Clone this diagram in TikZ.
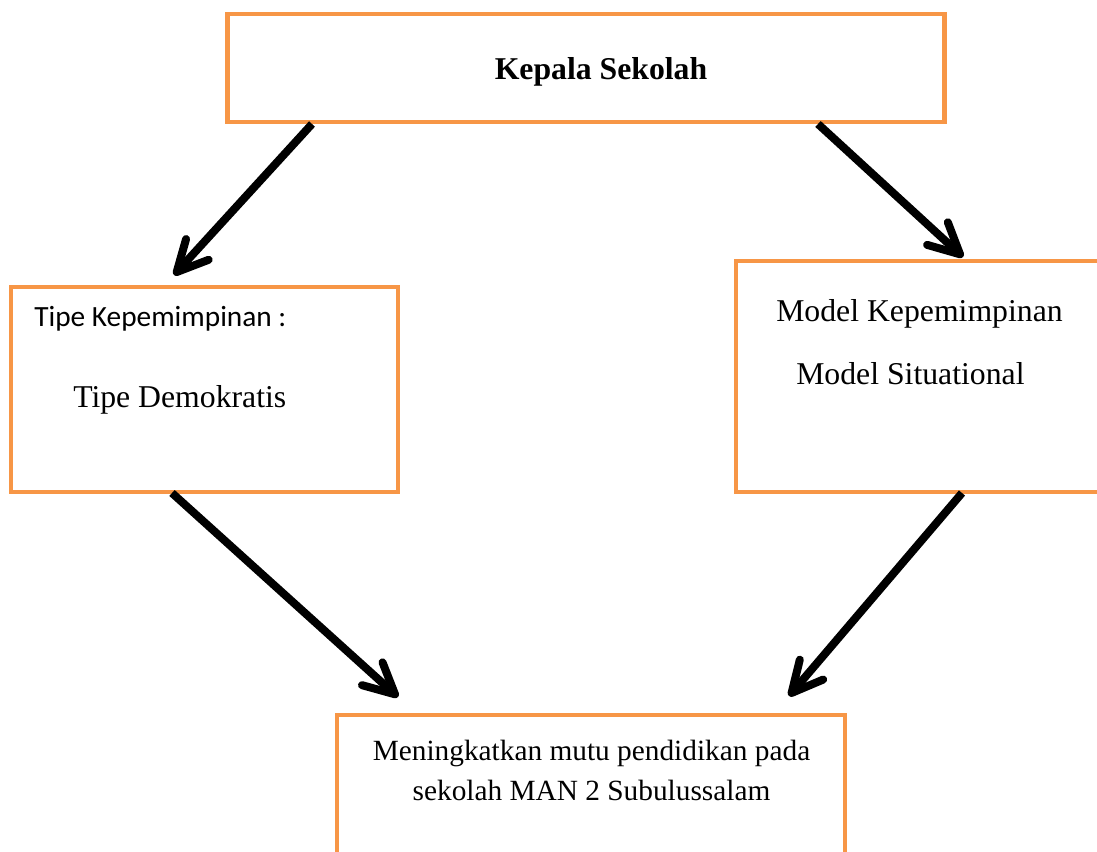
\documentclass[tikz,border=0pt]{standalone}
\usepackage{fontspec}
\setmainfont{Liberation Serif}
\newfontfamily\calibri{Carlito}
\usepackage{xcolor}
\usetikzlibrary{arrows.meta, positioning}

\definecolor{boxorange}{HTML}{F79646}

\begin{document}
\begin{tikzpicture}[
    x=0.75pt, y=-0.75pt,
    box/.style={rectangle, draw=boxorange, line width=3.5pt, fill=white, inner sep=0pt},
    txt/.style={anchor=base, inner sep=0pt, font=\fontsize{23.8}{28}\selectfont},
    arrow/.style={-{Straight Barb[length=23pt, width=23pt, line width=6pt, round]}, line width=6pt, black}
]
    \useasboundingbox (0,0) rectangle (1097,852);

    % Boxes
    \node[box, minimum width=537.75pt, minimum height=81pt] (kepala) at (586,68) {};
    \node[box, minimum width=290.25pt, minimum height=153.75pt] (tipe) at (204.5,389.5) {};
    \node[box, minimum width=284.25pt, minimum height=173.25pt] (model) at (925.5,376.5) {};
    \node[box, minimum width=381pt, minimum height=116.25pt] (mutu) at (591,792.5) {};

    % Texts
    \node[txt, font=\fontsize{23.8}{28}\selectfont\bfseries] (kepalatxt) at (601,80) {Kepala Sekolah};
    \node[txt, anchor=base west, font=\fontsize{22}{26}\selectfont\calibri] (tipetitle) at (34,327) {Tipe Kepemimpinan :};
    \node[txt, anchor=base west] (tipetxt) at (73,408) {Tipe Demokratis};
    \node[txt, anchor=base west] (modeltitle) at (776,322) {Model Kepemimpinan};
    \node[txt, anchor=base west] (modeltxt) at (796,385) {Model Situational};
    \node[txt, font=\fontsize{22}{26}\selectfont] (mututxt1) at (591.5,760) {Meningkatkan mutu pendidikan pada};
    \node[txt, font=\fontsize{22}{26}\selectfont] (mututxt2) at (591.5,800) {sekolah MAN 2 Subulussalam};

    % Arrow ends
    \coordinate (k1) at (312,124);
    \coordinate (k2) at (818,124);
    \coordinate (t1) at (174,275);
    \coordinate (m1) at (963,257);
    \coordinate (t2) at (172,493);
    \coordinate (m2) at (962,493);
    \coordinate (u1) at (398,697);
    \coordinate (u2) at (789,696);

    % Connections
    \draw[arrow] (k1) -- (t1);
    \draw[arrow] (k2) -- (m1);
    \draw[arrow] (t2) -- (u1);
    \draw[arrow] (m2) -- (u2);
\end{tikzpicture}
\end{document}
